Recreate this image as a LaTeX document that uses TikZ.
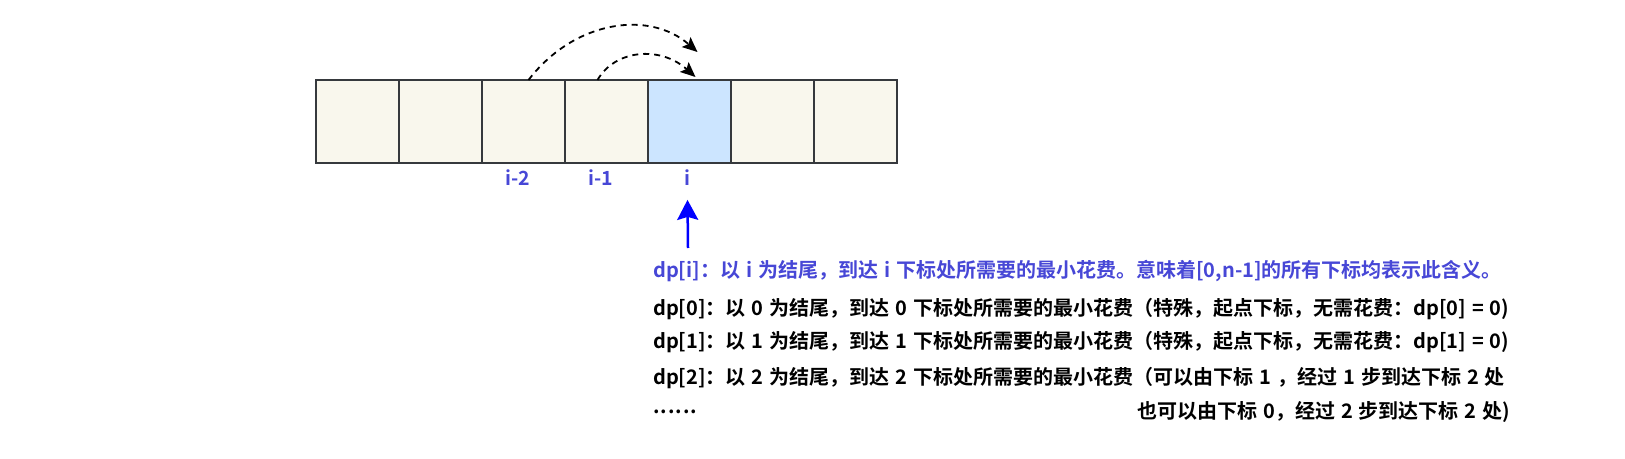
\documentclass[tikz,border=0pt]{standalone}
\usepackage{fontspec}
\setmainfont{Noto Sans CJK SC}[BoldFont={Noto Sans CJK SC Bold}]
\usepackage{xcolor}
\definecolor{cellbg}{HTML}{F9F7ED}
\definecolor{cellhl}{HTML}{CCE5FF}
\definecolor{celledge}{HTML}{36393D}
\definecolor{idxblue}{HTML}{4747D6}
\usetikzlibrary{arrows.meta,positioning}
\newcommand{\descfont}{\bfseries\fontsize{20}{23}\selectfont\spaceskip=6pt\relax}

\begin{document}
\begin{tikzpicture}[
  x=1pt, y=-1pt,
  cell/.style={draw=celledge, line width=2.4pt, fill=cellbg, outer sep=0pt,
               minimum width=83pt, minimum height=83pt, inner sep=0pt},
  cellf/.style={cell, fill=cellhl},
  idx/.style={font=\bfseries\fontsize{19.5}{22}\selectfont, text=idxblue},
  txt/.style={anchor=west, inner sep=0pt, font=\descfont},
  jump/.style={-{Stealth[length=15pt,width=13pt,inset=3pt]}, line width=1.8pt,
               dash pattern=on 6pt off 5pt},
  ptrarr/.style={-{Stealth[length=20pt,width=21pt,inset=3pt]}, line width=2.5pt, draw=blue}
]
\useasboundingbox (0,0) rectangle (1625,458);
% array cells
\node[cell] (c1) at (357.5,121.5) {};
\node[cell, right=0pt of c1] (c2) {};
\node[cell, right=0pt of c2] (c3) {};
\node[cell, right=0pt of c3] (c4) {};
\node[cellf, right=0pt of c4] (c5) {};
\node[cell, right=0pt of c5] (c6) {};
\node[cell, right=0pt of c6] (c7) {};
% index labels
\node[idx, below=3pt of c3, xshift=-6pt] (li2) {i-2};
\node[idx, below=3pt of c4, xshift=-6pt] (li1) {i-1};
\node[idx, below=3pt of c5, xshift=-2pt] (li) {i};
% jumps from i-2 and i-1
\draw[jump] ([xshift=5pt]c3.north) .. controls +(46,-60) and +(-48,-42) .. ([xshift=8pt,yshift=28pt]c5.north);
\draw[jump] ([xshift=-9pt]c4.north) .. controls +(17,-30) and +(-36,-32) .. ([xshift=6pt,yshift=3pt]c5.north);
% pointer
\coordinate (ptr) at (688,248);
\draw[ptrarr] (ptr) -- ([yshift=-11pt]li.south);
% description
\node[txt, text=idxblue] (d0) at (653,271.5) {dp[i]：以 i 为结尾，到达 i 下标处所需要的最小花费。意味着[0,n-1]的所有下标均表示此含义。};
\node[txt] (d1) at (653,309) {dp[0]：以 0 为结尾，到达 0 下标处所需要的最小花费（特殊，起点下标，无需花费：dp[0] = 0)};
\node[txt] (d2) at (653,342.5) {dp[1]：以 1 为结尾，到达 1 下标处所需要的最小花费（特殊，起点下标，无需花费：dp[1] = 0)};
\node[txt] (d3) at (653,378) {dp[2]：以 2 为结尾，到达 2 下标处所需要的最小花费（可以由下标 1 ，经过 1 步到达下标 2 处};
\node[txt] (d4) at (653,412) {.\kern1pt.\kern1pt.\kern1pt.\kern1pt.\kern1pt.};
\node[txt] (d5) at (1137,412) {也可以由下标 0，经过 2 步到达下标 2 处)};
\end{tikzpicture}
\end{document}
